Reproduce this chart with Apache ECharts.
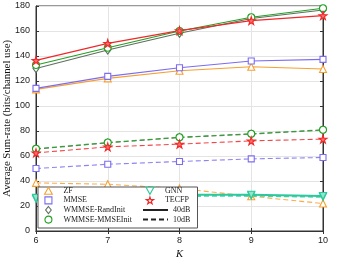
<!DOCTYPE html>
<html><head><meta charset="utf-8">
<script src="https://cdn.jsdelivr.net/npm/echarts@6/dist/echarts.min.js"></script>
<style>html,body{margin:0;padding:0;background:#fff}#c{width:346px;height:262px}</style>
</head><body><div id="c"></div>
<script>
const K = [6, 7, 8, 9, 10];
const yTicks = [0, 20, 40, 60, 80, 100, 120, 140, 160, 180];
// 40 dB
const zf40 = [113.3, 122.1, 128.2, 131.4, 129.6];
const mmse40 = [114.1, 123.7, 130.6, 136.0, 137.3];
const wRand40 = [130.0, 144.8, 158.2, 170.0, 176.8];
const wMmse40 = [132.8, 146.6, 160.0, 171.0, 178.2];
const gnn40 = [26.5, 28.0, 29.0, 29.0, 28.0];
const tecfp40 = [136.5, 150.1, 160.3, 168.3, 172.3];
// 10 dB
const zf10 = [38.5, 37.4, 34.0, 27.8, 22.0];
const mmse10 = [50.0, 53.4, 55.6, 57.7, 58.8];
const wRand10 = [65.5, 70.5, 74.8, 77.5, 80.7];
const wMmse10 = [65.8, 70.8, 75.0, 77.8, 81.0];
const gnn10 = [25.5, 27.0, 28.0, 28.3, 27.3];
const tecfp10 = [62.5, 67.3, 69.5, 72.1, 73.5];

const C = {zf:'#f7a030', mmse:'#7b6cf0', rand:'#5f705f', mm:'#22a022', gnn:'#2cc99c', tec:'#f02828'};
const STAR = 'path://M50,0 L61,35 L98,35 L68,57 L79,91 L50,70 L21,91 L32,57 L2,35 L39,35 Z';
const DTRI = 'path://M0,0 L10,0 L5,9 Z';
const UTRI = 'path://M5,0 L10,9 L0,9 Z';
const RECT = 'path://M0,0 L10,0 L10,10 L0,10 Z';
const DIAM = 'path://M4,0 L8,5 L4,10 L0,5 Z';

function pts(arr){ return K.map((k,i)=>[k, arr[i]]); }
function mk(name, arr, color, symbol, size, dashed, fill){
  return {
    name, type:'line', data: pts(arr), symbol, symbolSize: size,
    lineStyle:{color, width: name==='GNN'?2:1.1, type: dashed?[5,3]:'solid', opacity: dashed?0.85:1},
    itemStyle:{color: fill||'#fff', borderColor: color, borderWidth:1.1},
    emphasis:{disabled:true}, animation:false, z: dashed?2:3
  };
}
const series = [
  mk('ZF', zf40, C.zf, 'triangle', 7, false),
  mk('MMSE', mmse40, C.mmse, 'rect', 6, false),
  mk('WMMSE-RandInit', wRand40, C.rand, 'diamond', [6,8], false),
  mk('WMMSE-MMSEInit', wMmse40, C.mm, 'circle', 7, false),
  mk('GNN', gnn40, C.gnn, DTRI, 7, false, '#8fe6cc'),
  mk('TECFP', tecfp40, C.tec, STAR, 8, false, '#ff7070'),
  mk('ZF', zf10, C.zf, 'triangle', 7, true),
  mk('MMSE', mmse10, C.mmse, 'rect', 6, true),
  mk('WMMSE-RandInit', wRand10, C.rand, 'diamond', [6,8], true),
  mk('WMMSE-MMSEInit', wMmse10, C.mm, 'circle', 7, true),
  mk('GNN', gnn10, C.gnn, DTRI, 7, true, '#8fe6cc'),
  mk('TECFP', tecfp10, C.tec, STAR, 8, true, '#ff7070'),
  {name:'40dB', type:'line', data:[], symbol:'none', color:'#222', lineStyle:{color:'#222', width:1.1}},
  {name:'10dB', type:'line', data:[], symbol:'none', color:'#222', lineStyle:{color:'#222', width:1.1, type:[5,3]}}
];
function li(name, icon, color){ return {name, icon, itemStyle:{color:'#fff', borderColor:color, borderWidth:1.1}}; }
const legText = {fontFamily:'Liberation Serif', fontSize:8, color:'#222', lineHeight:9.6};
const chart = echarts.init(document.getElementById('c'));
chart.setOption({
  animation:false,
  grid:{left:36, right:23, top:6, bottom:31, show:true, borderColor:'#333', borderWidth:1, containLabel:false, outerBoundsMode:'none'},
  xAxis:[{type:'value', min:6, max:10, interval:1,
    name:'K', nameLocation:'middle', nameGap:18, nameMoveOverlap:false,
    nameTextStyle:{fontFamily:'Liberation Serif', fontStyle:'italic', fontSize:10.5, color:'#111'},
    axisLine:{lineStyle:{color:'#333'}}, axisTick:{inside:true, length:3, lineStyle:{color:'#333'}},
    axisLabel:{fontFamily:'Liberation Sans', fontSize:9, color:'#222', margin:5},
    splitLine:{show:true, lineStyle:{color:'#e4e4e4', width:1}}},
    {type:'value', position:'top', min:6, max:10, interval:1, axisLabel:{show:false},
    axisLine:{lineStyle:{color:'#333'}}, axisTick:{inside:true, length:3, lineStyle:{color:'#333'}}, splitLine:{show:false}}],
  yAxis:[{type:'value', min:0, max:180, interval:20,
    name:'Average Sum-rate (bits/channel use)', nameLocation:'middle', nameGap:23, nameMoveOverlap:false,
    nameTextStyle:{fontFamily:'Liberation Serif', fontSize:10.8, color:'#111'},
    axisLine:{show:true, lineStyle:{color:'#333'}}, axisTick:{show:true, inside:true, length:3, lineStyle:{color:'#333'}},
    axisLabel:{fontFamily:'Liberation Sans', fontSize:9, color:'#222', margin:6},
    splitLine:{show:true, lineStyle:{color:'#e4e4e4', width:1}}},
    {type:'value', position:'right', min:0, max:180, interval:20, axisLabel:{show:false},
    axisLine:{show:true, lineStyle:{color:'#333'}}, axisTick:{show:true, inside:true, length:3, lineStyle:{color:'#333'}}, splitLine:{show:false}}],
  graphic:[{type:'rect', shape:{x:38, y:187, width:159.5, height:41}, style:{fill:'#fff', stroke:'#555', lineWidth:1}, z:10}],
  legend:[
    {orient:'vertical', left:44, top:186, itemWidth:20, itemHeight:7, itemGap:0, padding:0, z:20, selectedMode:false,
     symbolKeepAspect:true, textStyle:legText,
     data:[li('ZF',UTRI,C.zf), li('MMSE',RECT,C.mmse), li('WMMSE-RandInit',DIAM,C.rand), li('WMMSE-MMSEInit','circle',C.mm)]},
    {orient:'vertical', left:145.5, top:186, itemWidth:20, itemHeight:7, itemGap:0, padding:0, z:20, selectedMode:false,
     symbolKeepAspect:true, textStyle:legText,
     data:[li('GNN',DTRI,C.gnn), li('TECFP',STAR,C.tec)]},
    {orient:'vertical', left:142, top:205.2, itemWidth:25, itemHeight:7, itemGap:0, padding:0, z:20, selectedMode:false,
     textStyle:legText,
     data:[{name:'40dB', itemStyle:{opacity:0}},{name:'10dB', itemStyle:{opacity:0}}]}
  ],
  series
});
</script></body></html>
